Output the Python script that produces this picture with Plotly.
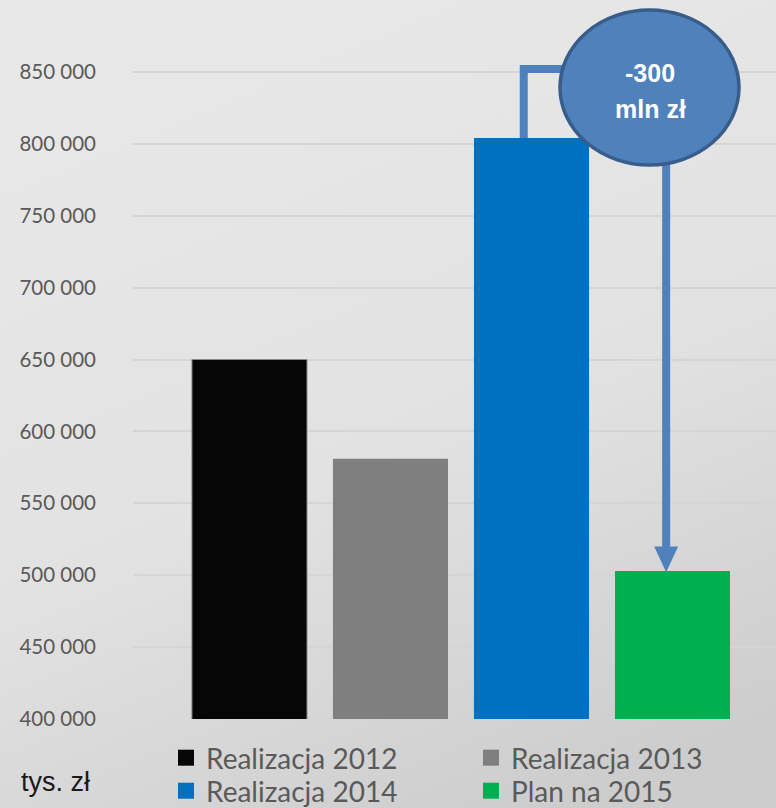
import base64
import plotly.graph_objects as go

# ---- data ----
categories = ["Realizacja 2012", "Realizacja 2013", "Realizacja 2014", "Plan na 2015"]
values = [650000, 581000, 804000, 503000]
bar_colors = ["#060606", "#7f7f7f", "#0070c0", "#00b050"]
tick_vals = [400000, 450000, 500000, 550000, 600000, 650000, 700000, 750000, 800000, 850000]
unit_label = "tys. zł"
callout_lines = ["-300", "mln zł"]

W, H = 776, 808
ML, MR, MT, MB = 133, 0, 0, 89
PW, PH = W - ML - MR, H - MT - MB
Y_RANGE = [400000, 900000]
X_RANGE = [-0.826, 3.734]

fig = go.Figure()
for i, (name, v, c) in enumerate(zip(categories, values, bar_colors)):
    fig.add_trace(go.Bar(
        x=[i], y=[v], name=name, width=0.816, legendgroup=name, showlegend=False,
        marker=dict(color=c, line=dict(color="#8a8a8a" if i == 0 else c, width=1 if i == 0 else 0)),
        hoverinfo="y",
    ))
# legend entries (square swatches), two rows of two
for i, (name, c) in enumerate(zip(categories, bar_colors)):
    fig.add_trace(go.Scatter(
        x=[None], y=[None], mode="markers", name=name, legendgroup=name,
        legend="legend" if i < 2 else "legend2",
        marker=dict(symbol="square", size=19, color=c, line=dict(width=0)),
    ))

# background gradient (style only)
svg = ('<svg xmlns="http://www.w3.org/2000/svg" width="776" height="808" viewBox="0 0 776 808" '
       'preserveAspectRatio="none"><defs><linearGradient id="g" x1="0.3" y1="0" x2="0.7" y2="1">'
       '<stop offset="0" stop-color="#e8e8e8"/><stop offset="0.55" stop-color="#e2e2e2"/>'
       '<stop offset="1" stop-color="#cdcdcd"/></linearGradient></defs>'
       '<rect width="776" height="808" fill="url(#g)"/></svg>')
src = "data:image/svg+xml;base64," + base64.b64encode(svg.encode()).decode()


def px_to_x(px):
    return X_RANGE[0] + (px - ML) / PW * (X_RANGE[1] - X_RANGE[0])


def px_to_y(py):
    return Y_RANGE[0] + (MT + PH - py) / PH * (Y_RANGE[1] - Y_RANGE[0])


line_col = "#4f81bd"
i14 = categories.index("Realizacja 2014")
i15 = categories.index("Plan na 2015")
xa = i14 - 0.055
xb = i15 - 0.045
y_top = px_to_y(69)
tip = values[i15]
head_h = 17000
head_w = 0.085

shapes = [
    dict(type="path", xref="x", yref="y",
         path=f"M{xa},{values[i14]} L{xa},{y_top} L{xb - 0.3},{y_top}",
         line=dict(color=line_col, width=8), layer="above"),
    dict(type="line", xref="x", yref="y", x0=xb, x1=xb, y0=px_to_y(150), y1=tip + head_h - 1500,
         line=dict(color=line_col, width=8), layer="above"),
    dict(type="path", xref="x", yref="y",
         path=f"M{xb - head_w},{tip + head_h} L{xb + head_w},{tip + head_h} L{xb},{tip - 1000} Z",
         fillcolor=line_col, line=dict(color=line_col, width=0), layer="above"),
    dict(type="circle", xref="x", yref="y",
         x0=px_to_x(560), x1=px_to_x(739), y0=px_to_y(165), y1=px_to_y(10),
         fillcolor="#4f81bd", line=dict(color="#385d8a", width=3.5), layer="above"),
]

ann_font = dict(family="Liberation Sans, Arial, sans-serif", size=25, color="white")
annotations = [
    dict(x=px_to_x(650), y=px_to_y(73), xref="x", yref="y", text=f"<b>{callout_lines[0]}</b>",
         showarrow=False, font=ann_font),
    dict(x=px_to_x(650), y=px_to_y(109), xref="x", yref="y", text=f"<b>{callout_lines[1]}</b>",
         showarrow=False, font=ann_font),
    dict(x=(19 - ML) / PW, y=(MT + PH - 782) / PH, xref="paper", yref="paper", text=unit_label,
         xanchor="left", yanchor="middle", showarrow=False,
         font=dict(family="Liberation Sans, Arial, sans-serif", size=27, color="#1a1a1a")),
]

legend_common = dict(orientation="h", xref="container", yref="container",
                     xanchor="left", yanchor="top", entrywidth=260, traceorder="normal",
                     bgcolor="rgba(0,0,0,0)", itemsizing="trace",
                     font=dict(family="Lato, Open Sans, sans-serif", size=28, color="#5a5a5a"))

fig.update_layout(
    width=W, height=H,
    margin=dict(l=ML, r=MR, t=MT, b=MB, pad=0, autoexpand=False),
    paper_bgcolor="#e4e4e4", plot_bgcolor="rgba(0,0,0,0)",
    separators=", ",
    barmode="overlay",
    images=[dict(source=src, xref="paper", yref="paper", x=-ML / PW, y=1 + MT / PH,
                 sizex=W / PW, sizey=H / PH, xanchor="left", yanchor="top",
                 sizing="stretch", layer="below")],
    xaxis=dict(range=X_RANGE, showgrid=False, zeroline=False, showticklabels=False,
               showline=False, ticks=""),
    yaxis=dict(range=Y_RANGE, tickvals=tick_vals, tickformat=",d", showgrid=True,
               gridcolor="#d5d5d5", gridwidth=1.5, zeroline=False, showline=False,
               ticks="", ticklabelstandoff=36,
               tickfont=dict(family="Lato, Open Sans, sans-serif", size=20.5, color="#595959")),
    legend=dict(x=166 / W, y=1 - 733 / H, **legend_common),
    legend2=dict(x=166 / W, y=1 - 766 / H, **legend_common),
    shapes=shapes,
    annotations=annotations,
    showlegend=True,
)

fig.write_html("out.html")
